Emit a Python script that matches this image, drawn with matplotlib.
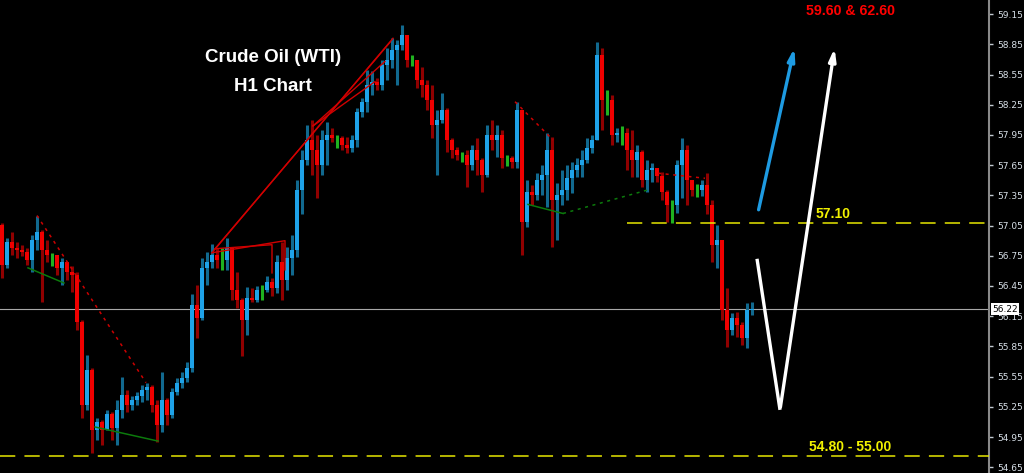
import numpy as np
import matplotlib
matplotlib.use("Agg")
import matplotlib.pyplot as plt
from matplotlib.patches import FancyArrowPatch
import matplotlib.transforms as mtransforms

# ---------------- data (H1 candles, prices in USD) ----------------
open0 = 57.06
highs = [57.08, 56.93, 56.99, 56.89, 56.86, 56.83, 56.96, 57.15, 57.01, 56.91,
         56.78, 56.76, 56.73, 56.67, 56.65, 56.59, 56.11, 55.76, 55.64, 55.14,
         55.12, 55.22, 55.20, 55.32, 55.55, 55.42, 55.36, 55.40, 55.47, 55.49,
         55.47, 55.32, 55.60, 55.34, 55.44, 55.54, 55.60, 55.70, 56.37, 56.46,
         56.73, 56.79, 56.87, 56.83, 56.83, 56.93, 56.81, 56.59, 56.33, 56.44,
         56.43, 56.45, 56.46, 56.55, 56.53, 56.76, 56.89, 56.84, 56.96, 57.50,
         57.80, 58.05, 58.10, 57.95, 58.00, 58.08, 58.02, 57.95, 57.94, 57.93,
         57.95, 58.22, 58.32, 58.59, 58.58, 58.52, 58.69, 58.81, 58.91, 58.89,
         59.04, 58.94, 58.74, 58.69, 58.62, 58.50, 58.45, 58.20, 58.37, 58.22,
         57.92, 57.83, 57.78, 57.80, 57.85, 57.92, 57.72, 58.05, 58.10, 58.05,
         58.00, 57.75, 57.74, 58.28, 58.20, 57.50, 57.45, 57.57, 57.65, 57.97,
         57.93, 57.47, 57.60, 57.65, 57.68, 57.72, 57.80, 57.92, 57.95, 58.87,
         58.81, 58.40, 58.35, 58.02, 58.04, 58.02, 58.00, 57.85, 57.80, 57.70,
         57.67, 57.60, 57.58, 57.40, 57.30, 57.70, 57.92, 57.85, 57.50, 57.46,
         57.50, 57.57, 57.30, 57.06, 56.91, 56.43, 56.18, 56.19, 56.09, 56.28,
         56.29]
lows = [56.53, 56.63, 56.76, 56.73, 56.75, 56.66, 56.59, 56.81, 56.29, 56.69,
        56.65, 56.56, 56.46, 56.51, 56.39, 56.01, 55.14, 55.22, 54.79, 54.92,
        54.87, 55.04, 54.92, 54.87, 55.14, 55.20, 55.22, 55.27, 55.30, 55.32,
        55.20, 54.90, 55.00, 55.07, 55.14, 55.37, 55.44, 55.50, 55.60, 55.93,
        56.11, 56.46, 56.63, 56.63, 56.61, 56.61, 56.31, 56.23, 55.75, 55.96,
        56.29, 56.29, 56.31, 56.39, 56.35, 56.38, 56.31, 56.41, 56.56, 56.74,
        57.16, 57.65, 57.55, 57.32, 57.55, 57.65, 57.88, 57.82, 57.80, 57.77,
        57.78, 57.83, 58.13, 58.18, 58.35, 58.40, 58.40, 58.50, 58.61, 58.45,
        58.79, 58.62, 58.63, 58.42, 58.33, 58.20, 57.92, 57.55, 58.07, 57.78,
        57.72, 57.70, 57.68, 57.43, 57.60, 57.55, 57.38, 57.53, 57.80, 57.73,
        57.62, 57.64, 57.62, 57.62, 56.76, 57.04, 57.25, 57.30, 57.35, 57.23,
        56.84, 56.91, 57.25, 57.30, 57.37, 57.53, 57.53, 57.67, 57.77, 57.90,
        58.00, 58.15, 57.85, 57.88, 57.85, 57.60, 57.53, 57.53, 57.43, 57.38,
        57.48, 57.48, 57.30, 57.09, 57.08, 57.17, 57.32, 57.25, 57.34, 57.33,
        57.34, 57.16, 56.69, 56.63, 56.11, 55.84, 55.96, 55.94, 55.86, 55.83,
        56.16]
closes = [56.66, 56.89, 56.83, 56.81, 56.79, 56.71, 56.91, 56.99, 56.81, 56.76,
          56.76, 56.63, 56.69, 56.59, 56.56, 56.09, 55.27, 55.62, 55.02, 55.10,
          55.02, 55.18, 55.04, 55.22, 55.37, 55.27, 55.32, 55.36, 55.42, 55.45,
          55.27, 55.07, 55.32, 55.17, 55.40, 55.49, 55.54, 55.64, 56.26, 56.13,
          56.63, 56.69, 56.76, 56.71, 56.71, 56.83, 56.41, 56.31, 56.11, 56.33,
          56.31, 56.41, 56.41, 56.49, 56.43, 56.69, 56.51, 56.73, 56.81, 57.40,
          57.70, 57.90, 57.80, 57.65, 57.90, 57.95, 57.92, 57.92, 57.85, 57.82,
          57.90, 58.18, 58.28, 58.45, 58.48, 58.45, 58.64, 58.69, 58.79, 58.84,
          58.94, 58.69, 58.69, 58.50, 58.45, 58.30, 58.05, 58.10, 58.20, 57.90,
          57.80, 57.75, 57.75, 57.65, 57.80, 57.70, 57.55, 57.95, 57.90, 57.95,
          57.72, 57.72, 57.68, 58.20, 57.09, 57.38, 57.35, 57.50, 57.55, 57.80,
          57.30, 57.35, 57.40, 57.52, 57.60, 57.65, 57.70, 57.82, 57.90, 58.74,
          58.30, 58.30, 57.95, 57.97, 57.97, 57.80, 57.70, 57.78, 57.50, 57.60,
          57.62, 57.54, 57.38, 57.25, 57.25, 57.65, 57.80, 57.50, 57.40, 57.40,
          57.45, 57.25, 56.86, 56.91, 56.21, 56.01, 56.13, 56.06, 55.93, 56.21,
          56.22]

current_price = 56.22
resistance = 57.08
support = 54.76
y_ticks = [59.15, 58.85, 58.55, 58.25, 57.95, 57.65, 57.35, 57.05,
           56.75, 56.45, 56.15, 55.85, 55.55, 55.25, 54.95, 54.65]

# drawn objects (bar index, price)
red_dotted = [[(7.0, 57.15), (28.8, 55.49)],
              [(102.6, 58.28), (110.2, 57.90)],
              [(131.2, 57.57), (140.6, 57.52)]]
green_solid = [[(5.2, 56.63), (12.4, 56.48)],
               [(18.6, 55.05), (31.2, 54.91)],
               [(105.2, 57.26), (112.2, 57.17)]]
green_dotted = [[(112.2, 57.17), (129.6, 57.41)]]
red_solid = [[(42.0, 56.78), (78.2, 58.91)],
             [(42.6, 56.82), (77.6, 58.87)],
             [(62.2, 58.04), (76.6, 58.68)],
             [(62.2, 58.04), (74.6, 58.48)],
             [(42.0, 56.78), (56.6, 56.90), (56.6, 56.61)],
             [(42.6, 56.82), (54.0, 56.86), (54.0, 56.58)]]
blue_arrow = [(151.2, 57.18), (158.6, 58.84)]
white_path = [(151.0, 56.72), (155.6, 55.22), (166.6, 58.84)]

# ---------------- figure ----------------
W, H, DPI = 1024, 473, 100
fig = plt.figure(figsize=(W / DPI, H / DPI), dpi=DPI, facecolor="black")
ax = fig.add_axes([0, 0, 989 / W, 1], facecolor="black")

opens = [open0] + closes[:-1]
x = np.arange(len(closes))
o = np.array(opens); c = np.array(closes)
h = np.maximum(np.array(highs), np.maximum(o, c))
l = np.minimum(np.array(lows), np.minimum(o, c))

up_body, up_wick = "#1ea2e8", "#11698f"
dn_body, dn_wick = "#f00000", "#900000"
doji_col = "#1fb21f"

wick_cols = np.where(c > o, up_wick, np.where(c < o, dn_wick, doji_col))
body_cols = np.where(c > o, up_body, np.where(c < o, dn_body, doji_col))
ax.vlines(x, l, h, colors=wick_cols, lw=2.2, zorder=2)
ax.bar(x, np.abs(c - o), bottom=np.minimum(o, c), width=0.62,
       color=body_cols, linewidth=0, zorder=3)

# horizontal levels
ax.axhline(current_price, color="#a8a8a8", lw=0.8, zorder=1)
ax.plot([125, 200], [resistance, resistance], color="#e6e600", lw=1.1,
        dashes=(10, 6), zorder=4)
ax.axhline(support, color="#e6e600", lw=1.1, dashes=(10, 6), zorder=4)

# drawn objects
for seg in red_dotted:
    xs, ys = zip(*seg)
    ax.plot(xs, ys, color="#cc0000", lw=1.1, dashes=(2, 3), zorder=5)
for seg in green_solid:
    xs, ys = zip(*seg)
    ax.plot(xs, ys, color="#0c7a0c", lw=1.1, zorder=5)
for seg in green_dotted:
    xs, ys = zip(*seg)
    ax.plot(xs, ys, color="#0c7a0c", lw=1.1, dashes=(2, 3), zorder=5)
for seg in red_solid:
    xs, ys = zip(*seg)
    ax.plot(xs, ys, color="#d00000", lw=1.0, zorder=5)

# arrows
ax.add_patch(FancyArrowPatch(blue_arrow[0], blue_arrow[1],
                             arrowstyle="-|>,head_length=7,head_width=2.0",
                             color="#1e9be2", lw=2.4, mutation_scale=1, zorder=6))
ax.plot([p[0] for p in white_path[:2]], [p[1] for p in white_path[:2]],
        color="white", lw=2.4, solid_capstyle="butt", zorder=6)
ax.add_patch(FancyArrowPatch(white_path[1], white_path[2],
                             arrowstyle="-|>,head_length=7,head_width=2.0",
                             color="white", lw=2.4, mutation_scale=1, zorder=6))

# texts
ax.text(54.2, 58.72, "Crude Oil (WTI)", color="white", fontsize=13.5,
        fontweight="bold", family="Liberation Sans", ha="center", va="center", zorder=7)
ax.text(54.2, 58.43, "H1 Chart", color="white", fontsize=13.5,
        fontweight="bold", family="Liberation Sans", ha="center", va="center", zorder=7)
ax.text(169.8, 59.18, "59.60 & 62.60", color="#ff0000", fontsize=10.2,
        fontweight="bold", family="Liberation Sans", ha="center", va="center", zorder=7)
ax.text(166.2, 57.16, "57.10", color="#f0f000", fontsize=10,
        fontweight="bold", family="Liberation Sans", ha="center", va="center", zorder=7)
ax.text(169.6, 54.85, "54.80 - 55.00", color="#f0f000", fontsize=10,
        fontweight="bold", family="Liberation Sans", ha="center", va="center", zorder=7)

# axes
ax.set_xlim(-0.4, 197.4)
ax.set_ylim(54.593, 59.29)
ax.set_xticks([])
ax.yaxis.tick_right()
ax.set_yticks(y_ticks)
ax.set_yticklabels([f"{v:.2f}" for v in y_ticks])
ax.tick_params(axis="y", colors="#c0c8d0", labelcolor="#d8e0e8", length=3,
               width=1, pad=3, labelsize=6.5)
for s in ["left", "top", "bottom"]:
    ax.spines[s].set_visible(False)
ax.spines["right"].set_color("#8a8a8a")
ax.spines["right"].set_linewidth(1.5)

trans = mtransforms.blended_transform_factory(ax.transAxes, ax.transData)
ax.text(1.003, current_price, f"{current_price:.2f}", transform=trans, fontsize=6.5,
        color="black", ha="left", va="center", zorder=8, clip_on=False,
        bbox=dict(facecolor="white", edgecolor="none", pad=1.0))

fig.savefig("out.png", dpi=DPI, facecolor="black")
